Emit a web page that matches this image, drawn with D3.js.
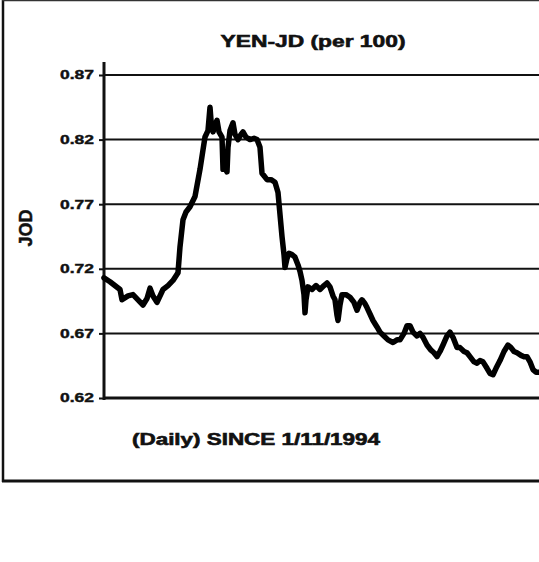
<!DOCTYPE html>
<html><head><meta charset="utf-8">
<script src="https://cdn.jsdelivr.net/npm/d3@7"></script>
<style>html,body{margin:0;padding:0;background:#fff;overflow:hidden}svg{display:block}</style>
</head><body>
<svg id="c" width="539" height="562"></svg>
<script>
const title = "YEN-JD (per 100)";
const xLabel = "(Daily) SINCE 1/11/1994";
const yLabel = "JOD";
const yTicks = [0.62, 0.67, 0.72, 0.77, 0.82, 0.87];
const yTickLabels = ["0.62", "0.67", "0.72", "0.77", "0.82", "0.87"];
// trading-day offset since 1/11/1994
const days = [0,18,48,54,72,87,102,117,129,138,147,159,177,192,207,222,228,237,246,258,273,288,297,303,312,318,321,327,333,339,345,354,357,363,369,372,378,387,393,402,411,417,426,438,450,459,468,474,480,489,501,513,522,528,534,540,543,549,555,564,573,582,588,594,600,603,606,612,624,636,648,660,669,678,687,693,699,702,708,714,726,738,750,759,768,774,783,789,798,807,819,828,840,852,867,879,888,900,909,918,927,939,948,957,969,981,990,999,1008,1017,1029,1038,1047,1059,1068,1080,1089,1098,1110,1119,1128,1137,1149,1158,1167,1176,1188,1200,1212,1221,1230,1239,1251,1260,1269,1278,1287,1296,1305];
const rates = [0.713,0.710,0.704,0.696,0.699,0.700,0.696,0.692,0.697,0.705,0.699,0.694,0.704,0.707,0.711,0.717,0.737,0.758,0.764,0.768,0.776,0.797,0.812,0.822,0.827,0.845,0.835,0.826,0.831,0.835,0.826,0.822,0.797,0.798,0.795,0.814,0.827,0.833,0.824,0.820,0.824,0.826,0.822,0.820,0.821,0.820,0.814,0.794,0.792,0.789,0.789,0.787,0.779,0.762,0.745,0.731,0.721,0.728,0.732,0.731,0.729,0.723,0.718,0.711,0.700,0.686,0.696,0.706,0.704,0.707,0.704,0.707,0.709,0.706,0.699,0.696,0.684,0.680,0.692,0.700,0.700,0.698,0.694,0.688,0.694,0.696,0.693,0.690,0.685,0.680,0.675,0.671,0.668,0.665,0.663,0.665,0.665,0.670,0.676,0.676,0.671,0.668,0.670,0.667,0.661,0.657,0.655,0.652,0.656,0.661,0.668,0.671,0.667,0.659,0.659,0.656,0.655,0.652,0.648,0.647,0.649,0.648,0.643,0.639,0.638,0.643,0.649,0.656,0.661,0.659,0.656,0.655,0.653,0.652,0.652,0.648,0.642,0.640,0.640];

const data = days.map((d, i) => ({d, v: rates[i]}));
const svg = d3.select("#c");
const font = "Arial, 'Liberation Sans', sans-serif";

const x = d3.scaleLinear().domain([0, 1305]).range([104, 539]);
const y = d3.scaleLinear().domain([0.62, 0.87]).range([398, 75]);

// outer frame
svg.append("line").attr("x1", 3).attr("x2", 3).attr("y1", 0).attr("y2", 482).attr("stroke", "#111").attr("stroke-width", 2.5);
svg.append("line").attr("x1", 2).attr("x2", 560).attr("y1", 481).attr("y2", 481).attr("stroke", "#111").attr("stroke-width", 3);
svg.append("line").attr("x1", 2).attr("x2", 560).attr("y1", 0.5).attr("y2", 0.5).attr("stroke", "#333").attr("stroke-width", 1.5);

// gridlines
svg.append("g").selectAll("line").data(yTicks).join("line")
  .attr("x1", 104).attr("x2", 560)
  .attr("y1", d => y(d)).attr("y2", d => y(d))
  .attr("stroke", "#111").attr("stroke-width", d => d === 0.62 ? 3 : 2);

// y axis
const yAxis = d3.axisLeft(y).tickValues(yTicks).tickSize(5).tickFormat((d, i) => yTickLabels[i]);
const ga = svg.append("g").attr("transform", "translate(104,0)").call(yAxis);
ga.select(".domain").remove();
ga.selectAll(".tick line").attr("stroke", "#111").attr("stroke-width", 2);
ga.selectAll(".tick text").attr("font-family", font).attr("font-weight", "bold")
  .attr("font-size", 12).attr("fill", "#111").attr("stroke", "#111").attr("stroke-width", 0.4).attr("x", -10)
  .attr("textLength", 34).attr("lengthAdjust", "spacingAndGlyphs");
svg.append("line").attr("x1", 104).attr("x2", 104).attr("y1", 62).attr("y2", 400)
  .attr("stroke", "#111").attr("stroke-width", 3);

// line
svg.append("path").datum(data)
  .attr("fill", "none").attr("stroke", "#000").attr("stroke-width", 5.5)
  .attr("stroke-linejoin", "round").attr("stroke-linecap", "round")
  .attr("d", d3.line().x(p => x(p.d)).y(p => y(p.v)));

// texts
svg.append("text").attr("x", 313).attr("y", 47).attr("text-anchor", "middle")
  .attr("font-family", font).attr("font-weight", "bold").attr("font-size", 17).attr("fill", "#111")
  .attr("stroke", "#111").attr("stroke-width", 0.6)
  .attr("textLength", 185).attr("lengthAdjust", "spacingAndGlyphs").text(title);
svg.append("text").attr("x", 256).attr("y", 445).attr("text-anchor", "middle")
  .attr("font-family", font).attr("font-weight", "bold").attr("font-size", 16).attr("fill", "#111")
  .attr("stroke", "#111").attr("stroke-width", 0.6)
  .attr("textLength", 248).attr("lengthAdjust", "spacingAndGlyphs").text(xLabel);
svg.append("text").attr("transform", "translate(32,228) rotate(-90)").attr("text-anchor", "middle")
  .attr("font-family", font).attr("font-weight", "bold").attr("font-size", 18).attr("fill", "#111")
  .attr("stroke", "#111").attr("stroke-width", 0.5)
  .text(yLabel);
</script>
</body></html>
